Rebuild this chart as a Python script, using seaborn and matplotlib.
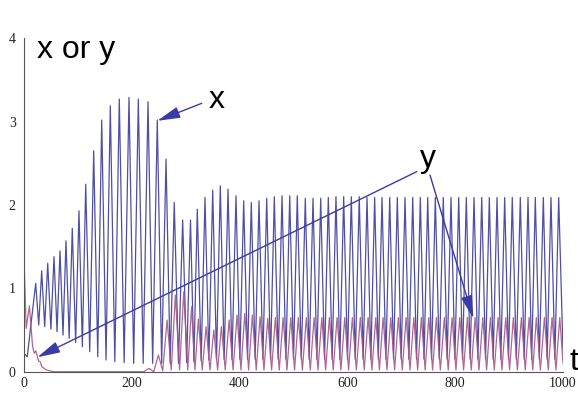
import numpy as np
import pandas as pd
import matplotlib
matplotlib.use("Agg")
import matplotlib.pyplot as plt
import seaborn as sns

sns.set_theme(style="white")
plt.rcParams["font.family"] = ["Liberation Sans", "DejaVu Sans"]

# ---------------- data ----------------
# x(t): start, then (trough, peak) pairs, then end point
x_start = (0.0, 0.22)
x_end = (1000.0, 0.25)
x_peak_t = [21.7, 32.8, 44.0, 55.7, 66.8, 77.9, 89.6, 102.0, 114.5, 129.3,
            144.2, 160.1, 176.8, 194.8, 212.1, 230.1, 247.3, 263.5, 278.8, 294.4,
            308.9, 321.5, 335.8, 350.1, 364.2, 378.5, 393.3, 407.6, 421.7, 436.0,
            450.3, 464.4, 478.7, 493.0, 507.0, 521.9, 536.2, 550.5, 564.6, 578.8,
            593.1, 607.2, 622.0, 636.4, 650.6, 664.2, 678.5, 692.6, 706.9, 721.2,
            735.3, 749.0, 763.1, 777.9, 792.2, 806.5, 820.6, 834.9, 849.2, 863.3,
            877.6, 891.8, 905.9, 920.8, 935.1, 948.6, 963.5, 977.7, 992.0]
x_peak_v = [1.06, 1.21, 1.30, 1.38, 1.45, 1.57, 1.72, 1.93, 2.25, 2.65,
            3.02, 3.19, 3.27, 3.29, 3.27, 3.24, 3.02, 2.55, 2.03, 1.82,
            1.82, 1.95, 2.09, 2.18, 2.23, 2.19, 2.11, 2.05, 2.03, 2.05,
            2.08, 2.10, 2.11, 2.11, 2.11, 2.08, 2.08, 2.08, 2.09, 2.10,
            2.10, 2.10, 2.10, 2.09, 2.09, 2.09, 2.09, 2.09, 2.09, 2.09,
            2.09, 2.09, 2.09, 2.09, 2.09, 2.09, 2.09, 2.09, 2.09, 2.09,
            2.09, 2.09, 2.09, 2.09, 2.09, 2.09, 2.09, 2.09, 2.09]
# trough before each x peak
x_trough_t = [6.0, 27.3, 38.4, 49.9, 61.3, 72.4, 83.8, 95.8, 108.3, 121.9,
              136.8, 152.2, 168.5, 185.8, 203.5, 221.1, 238.7, 255.4, 271.2, 286.6,
              301.7, 315.2, 328.7, 343.0, 357.2, 371.4, 385.9, 400.5, 414.7, 428.9,
              443.2, 457.4, 471.6, 485.9, 500.0, 514.5, 529.1, 543.4, 557.6, 571.7,
              586.0, 600.2, 614.6, 629.2, 643.5, 657.4, 671.4, 685.6, 699.8, 714.1,
              728.3, 742.2, 756.1, 770.5, 785.1, 799.4, 813.6, 827.8, 842.1, 856.3,
              870.5, 884.7, 898.9, 913.4, 928.0, 941.9, 956.1, 970.6, 984.9]
x_trough_v = [0.18, 0.56, 0.54, 0.51, 0.48, 0.44, 0.40, 0.35, 0.30, 0.24,
              0.18, 0.14, 0.12, 0.11, 0.10, 0.10, 0.10, 0.10, 0.10, 0.10,
              0.11, 0.12, 0.13, 0.14, 0.15, 0.15, 0.15, 0.15, 0.15, 0.15,
              0.15, 0.15, 0.15, 0.15, 0.15, 0.15, 0.15, 0.15, 0.15, 0.15,
              0.15, 0.15, 0.15, 0.15, 0.15, 0.15, 0.15, 0.15, 0.15, 0.15,
              0.15, 0.15, 0.15, 0.15, 0.15, 0.15, 0.15, 0.15, 0.15, 0.15,
              0.15, 0.15, 0.15, 0.15, 0.15, 0.15, 0.15, 0.15, 0.15]

# y(t): early transient, then (peak, trough) pairs, then end point
y_early_t = [0.0, 4.0, 10.0, 16.0, 19.0, 22.0, 27.0, 30.0, 33.0, 42.0, 55.0, 222.0]
y_early_v = [1.38, 0.52, 0.79, 0.30, 0.22, 0.25, 0.13, 0.12, 0.06, 0.02, 0.0, 0.0]
y_peak_t = [232.1, 249.3, 265.5, 280.8, 296.4, 310.9, 323.5, 337.8, 352.1, 366.2,
            380.5, 395.3, 409.6, 423.7, 438.0, 452.3, 466.4, 480.7, 495.0, 509.0,
            523.9, 538.2, 552.5, 566.6, 580.8, 595.1, 609.2, 624.0, 638.4, 652.6,
            666.2, 680.5, 694.6, 708.9, 723.2, 737.3, 751.0, 765.1, 779.9, 794.2,
            808.5, 822.6, 836.9, 851.2, 865.3, 879.6, 893.8, 907.9, 922.8, 937.1,
            950.6, 965.5, 979.7, 994.0]
y_peak_v = [0.04, 0.20, 0.62, 0.92, 0.96, 0.78, 0.63, 0.54, 0.50, 0.54,
            0.62, 0.68, 0.70, 0.68, 0.66, 0.64, 0.65, 0.65, 0.65, 0.65,
            0.65, 0.65, 0.65, 0.65, 0.65, 0.65, 0.65, 0.65, 0.65, 0.65,
            0.65, 0.65, 0.65, 0.65, 0.65, 0.65, 0.65, 0.65, 0.65, 0.65,
            0.65, 0.65, 0.65, 0.65, 0.65, 0.65, 0.65, 0.65, 0.65, 0.65,
            0.65, 0.65, 0.65, 0.65]
# trough after each y peak (last one is the end point)
y_trough_t = [240.7, 257.4, 273.2, 288.6, 303.7, 317.2, 330.7, 345.0, 359.2, 373.4,
              387.9, 402.5, 416.7, 430.9, 445.2, 459.4, 473.6, 487.9, 502.0, 516.5,
              531.1, 545.4, 559.6, 573.7, 588.0, 602.2, 616.6, 631.2, 645.5, 659.4,
              673.4, 687.6, 701.8, 716.1, 730.3, 744.2, 758.1, 772.5, 787.1, 801.4,
              815.6, 829.8, 844.1, 858.3, 872.5, 886.7, 900.9, 915.4, 930.0, 943.9,
              958.1, 972.6, 986.9, 1000.0]
y_trough_v = [0.00, 0.01, 0.02, 0.02, 0.02, 0.02, 0.02, 0.02, 0.02, 0.02,
              0.02, 0.02, 0.02, 0.02, 0.02, 0.02, 0.02, 0.02, 0.02, 0.02,
              0.02, 0.02, 0.02, 0.02, 0.02, 0.02, 0.02, 0.02, 0.02, 0.02,
              0.02, 0.02, 0.02, 0.02, 0.02, 0.02, 0.02, 0.02, 0.02, 0.02,
              0.02, 0.02, 0.02, 0.02, 0.02, 0.02, 0.02, 0.02, 0.02, 0.02,
              0.02, 0.02, 0.02, 0.10]

x_ticks = [0, 200, 400, 600, 800, 1000]
y_ticks = [0, 1, 2, 3, 4]

# ---------------- build series ----------------
xt, xv = [x_start[0]], [x_start[1]]
for a, b, c, d in zip(x_trough_t, x_trough_v, x_peak_t, x_peak_v):
    xt += [a, c]
    xv += [b, d]
xt.append(x_end[0]); xv.append(x_end[1])

yt, yv = list(y_early_t), list(y_early_v)
for a, b, c, d in zip(y_peak_t, y_peak_v, y_trough_t, y_trough_v):
    yt += [a, c]
    yv += [b, d]

df_x = pd.DataFrame({"t": xt, "v": xv})
df_y = pd.DataFrame({"t": yt, "v": yv})

# ---------------- figure ----------------
fig = plt.figure(figsize=(5.78, 3.94), dpi=100)
ax = fig.add_axes([24 / 578, 22.3 / 394, 539 / 578, 333.4 / 394])

blue = "#4f4fa3"
pink = "#a8558a"
sns.lineplot(data=df_x, x="t", y="v", ax=ax, sort=False, estimator=None,
             color=blue, linewidth=0.9)
sns.lineplot(data=df_y, x="t", y="v", ax=ax, sort=False, estimator=None,
             color=pink, linewidth=0.9, alpha=0.9)

ax.set_xlim(0, 1000)
ax.set_ylim(0, 4)
ax.set_xlabel("")
ax.set_ylabel("")
ax.set_xticks(x_ticks)
ax.set_xticks(np.arange(0, 1001, 50), minor=True)
ax.set_yticks(y_ticks)
ax.set_yticks(np.arange(0, 4.01, 0.2), minor=True)
ax.set_xticklabels([str(v) for v in x_ticks])
ax.set_yticklabels([str(v) for v in y_ticks])
ax.tick_params(which="both", direction="in", color="#555555", width=0.8)
ax.tick_params(which="major", length=4.5)
ax.tick_params(which="minor", length=2.5)
ax.tick_params(axis="x", pad=4, labelsize=10, labelcolor="#222222")
ax.tick_params(axis="y", pad=6, labelsize=10, labelcolor="#222222")
for lab in ax.get_xticklabels() + ax.get_yticklabels():
    lab.set_fontfamily(["Liberation Serif", "DejaVu Serif"])

for s in ["top", "right"]:
    ax.spines[s].set_visible(False)
for s in ["left", "bottom"]:
    ax.spines[s].set_color("#555555")
    ax.spines[s].set_linewidth(0.8)
ax.grid(False)

# ---------------- annotations ----------------
arrow_col = "#3b3ba5"
aprops = dict(arrowstyle="-|>,head_length=1.4,head_width=0.35",
              mutation_scale=10, color=arrow_col, lw=1.0,
              shrinkA=0, shrinkB=0)
ax.annotate("", xy=(247.3, 3.01), xytext=(329.7, 3.22), arrowprops=aprops)
ax.annotate("", xy=(24.7, 0.173), xytext=(728.6, 2.40), arrowprops=aprops)
ax.annotate("", xy=(833.6, 0.64), xytext=(753.2, 2.36), arrowprops=aprops)

fs = 23
ax.text(24.1, 3.763, "x or y", fontsize=fs, ha="left", va="baseline", color="black")
ax.text(357.1, 3.164, "x", fontsize=fs, ha="center", va="baseline", color="black")
ax.text(748.6, 2.456, "y", fontsize=fs, ha="center", va="baseline", color="black")
ax.text(1012.4, 0.02, "t", fontsize=fs, ha="left", va="baseline", color="black",
        clip_on=False)

fig.savefig("out.png", dpi=100)
